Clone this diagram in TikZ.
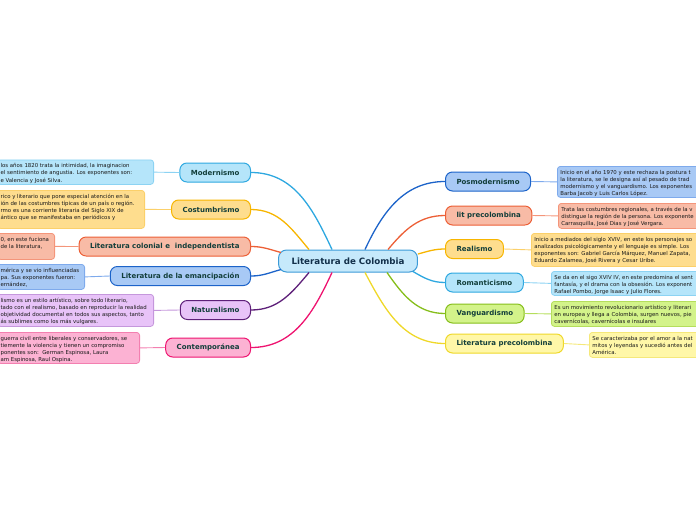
\documentclass[tikz,border=0pt]{standalone}
\usepackage{fontspec}
\setmainfont{DejaVu Sans}
\usepackage{xcolor}
\usepackage{tikz}
\usetikzlibrary{positioning}

\definecolor{cyanFill}{HTML}{B5E5FA}
\definecolor{cyanLine}{HTML}{2EA8E0}
\definecolor{cyanSoft}{HTML}{8CD3F3}
\definecolor{yelFill}{HTML}{FEDD8E}
\definecolor{yelLine}{HTML}{F7B500}
\definecolor{yelSoft}{HTML}{FBD06A}
\definecolor{oraFill}{HTML}{F8BBA6}
\definecolor{oraLine}{HTML}{EC5F36}
\definecolor{oraSoft}{HTML}{F4957A}
\definecolor{bluFill}{HTML}{A8C9F5}
\definecolor{bluLine}{HTML}{1C63C9}
\definecolor{bluSoft}{HTML}{7EAAEC}
\definecolor{purFill}{HTML}{E8C3F8}
\definecolor{purLine}{HTML}{5E2079}
\definecolor{purSoft}{HTML}{C597DC}
\definecolor{pinFill}{HTML}{FCB2D3}
\definecolor{pinLine}{HTML}{EE1470}
\definecolor{pinSoft}{HTML}{F37FB0}
\definecolor{greFill}{HTML}{D3F38A}
\definecolor{greLine}{HTML}{86BE1B}
\definecolor{greSoft}{HTML}{B5DE5C}
\definecolor{lyeFill}{HTML}{FFF7A8}
\definecolor{lyeLine}{HTML}{EFD829}
\definecolor{lyeSoft}{HTML}{F5E87A}
\definecolor{rootFill}{HTML}{C6E9FB}
\definecolor{rootLine}{HTML}{3C9BD8}
\definecolor{nameInk}{HTML}{123E3A}
\definecolor{rootInk}{HTML}{12304A}

\newcommand{\descpar}[3]{\parbox[t][#1][t]{#2}{\begin{tabular}[t]{@{}l@{}}#3\end{tabular}}}

\begin{document}
\begin{tikzpicture}[x=1pt,y=-1pt,
    root/.style={draw=rootLine, fill=rootFill, line width=1pt, rounded corners=8pt,
        minimum height=22pt, inner xsep=13pt, inner ysep=0pt,
        font=\fontsize{8.7}{10}\selectfont\bfseries, text=rootInk},
    branch/.style={line width=1pt, rounded corners=7pt, minimum height=19pt,
        inner xsep=11pt, inner ysep=0pt,
        font=\fontsize{7}{8}\selectfont\bfseries, text=nameInk},
    descbox/.style={line width=0.8pt, rounded corners=3pt, inner xsep=3pt, inner ysep=2.5pt,
        font=\fontsize{5.4}{7.3}\selectfont, text=black!90},
    twig/.style={line width=1.3pt},
    leaf/.style={line width=0.9pt}]
\useasboundingbox (0,0) rectangle (696,520);
\clip (0,0) rectangle (696,520);

\node[root] (root) at (348,261) {Literatura de Colombia};

\node[branch, draw=cyanLine, fill=cyanFill, anchor=east] (modern) at (251,172.5) {Modernismo};
\node[branch, draw=yelLine, fill=yelFill, anchor=east] (costum) at (251,209.5) {Costumbrismo};
\node[branch, draw=oraLine, fill=oraFill, anchor=east] (colonial) at (251,246.5) {Literatura colonial e\ \ independentista};
\node[branch, draw=bluLine, fill=bluFill, anchor=east] (emancip) at (251,276) {Literatura de la emancipación};
\node[branch, draw=purLine, fill=purFill, anchor=east] (natural) at (251,310) {Naturalismo};
\node[branch, draw=pinLine, fill=pinFill, anchor=east] (contemp) at (251,347.5) {Contemporánea};

\node[branch, draw=bluLine, fill=bluFill, anchor=west] (posmod) at (445,181.5) {Posmodernismo};
\node[branch, draw=oraLine, fill=oraFill, anchor=west] (litpre) at (445,215.5) {lit precolombina};
\node[branch, draw=yelLine, fill=yelFill, anchor=west] (realis) at (445,249) {Realismo};
\node[branch, draw=cyanLine, fill=cyanFill, anchor=west] (romant) at (445,282.5) {Romanticismo};
\node[branch, draw=greLine, fill=greFill, anchor=west] (vanguard) at (445,313.5) {Vanguardismo};
\node[branch, draw=lyeLine, fill=lyeFill, anchor=west] (preco) at (445,343.5) {Literatura precolombina};

\node[descbox, draw=cyanSoft, fill=cyanFill, anchor=north east] (modernTxt) at (154,159.5)
    {\descpar{19.5pt}{150pt}{los años 1820 trata la intimidad, la imaginacion\\ el sentimiento de angustia. Los exponentes son:\\e Valencia y José Silva.}};
\node[descbox, draw=yelSoft, fill=yelFill, anchor=north east] (costumTxt) at (145,190)
    {\descpar{33pt}{141pt}{rico y literario que pone especial atención en la\\ión de las costumbres típicas de un país o región.\\rmo es una corriente literaria del Siglo XIX de\\ántico que se manifestaba en periódicos y}};
\node[descbox, draw=oraSoft, fill=oraFill, anchor=north east] (colonialTxt) at (55,233)
    {\descpar{21pt}{51pt}{0, en este fuciona\\de la literatura,}};
\node[descbox, draw=bluSoft, fill=bluFill, anchor=north east] (emancipTxt) at (85,264)
    {\descpar{20pt}{81pt}{mérica y se vio influenciadas\\pa. Sus exponentes fueron:\\ernández,}};
\node[descbox, draw=purSoft, fill=purFill, anchor=north east] (naturalTxt) at (154,294)
    {\descpar{27pt}{150pt}{lismo es un estilo artístico, sobre todo literario,\\tado con el realismo, basado en reproducir la realidad\\objetividad documental en todos sus aspectos, tanto\\ás sublimes como los más vulgares.}};
\node[descbox, draw=pinSoft, fill=pinFill, anchor=north east] (contempTxt) at (140,332)
    {\descpar{26pt}{136pt}{guerra civil entre liberales y conservadores, se\\tiemente la violencia y tienen un compromiso\\ponentes son:\ \ German Espinosa, Laura\\am Espinosa, Raul Ospina.}};

\node[descbox, draw=bluSoft, fill=bluFill, anchor=north west] (posmodTxt) at (557,166)
    {\descpar{26pt}{200pt}{Inicio en el año 1970 y este rechaza la postura t\\la literatura, se le designa así al pesado de trad\\modernismo y el vanguardismo. Los exponentes\\Barba Jacob y Luis Carlos López.}};
\node[descbox, draw=oraSoft, fill=oraFill, anchor=north west] (litpreTxt) at (558,203)
    {\descpar{20pt}{200pt}{Trata las costumbres regionales, a través de la v\\distingue la región de la persona. Los exponente\\Carrasquilla, José Dias y José Vergara.}};
\node[descbox, draw=yelSoft, fill=yelFill, anchor=north west] (realisTxt) at (531,233)
    {\descpar{28pt}{200pt}{Inicio a mediados del siglo XVIV, en este los personajes so\\analizados psicológicamente y el lenguaje es simple. Los\\exponentes son: Gabriel García Márquez, Manuel Zapata,\\Eduardo Zalamea, José Rivera y Cesar Uribe.}};
\node[descbox, draw=cyanSoft, fill=cyanFill, anchor=north west] (romantTxt) at (551,271)
    {\descpar{19pt}{200pt}{Se da en el sigo XVIV IV, en este predomina el sent\\fantasía, y el drama con la obsesión. Los exponent\\Rafael Pombo, Jorge Isaac y Julio Flores.}};
\node[descbox, draw=greSoft, fill=greFill, anchor=north west] (vanguardTxt) at (551,301)
    {\descpar{20pt}{200pt}{Es un movimiento revolucionario artístico y literari\\en europea y llega a Colombia, surgen nuevos, pie\\cavernícolas, cavernícolas e insulares}};
\node[descbox, draw=lyeSoft, fill=lyeFill, anchor=north west] (precoTxt) at (589,332)
    {\descpar{20pt}{200pt}{Se caracterizaba por el amor a la nat\\mitos y leyendas y sucedió antes del\\América.}};

\draw[twig, cyanLine] ([xshift=-16pt]root.north) to[out=115,in=0] (modern.east);
\draw[twig, yelLine] ([xshift=-39pt]root.north) to[out=130,in=0] (costum.east);
\draw[twig, oraLine] ([xshift=3pt,yshift=-3pt]root.north west) to[out=165,in=0] (colonial.east);
\draw[twig, bluLine] ([xshift=3pt,yshift=3pt]root.south west) to[out=195,in=0] (emancip.east);
\draw[twig, purLine] ([xshift=-39pt]root.south) to[out=230,in=0] (natural.east);
\draw[twig, pinLine] ([xshift=-16pt]root.south) to[out=245,in=0] (contemp.east);

\draw[twig, bluLine] ([xshift=17pt]root.north) to[out=65,in=180] (posmod.west);
\draw[twig, oraLine] ([xshift=40pt]root.north) to[out=50,in=180] (litpre.west);
\draw[twig, yelLine] ([yshift=7pt]root.east) to[out=15,in=180] (realis.west);
\draw[twig, cyanLine] ([xshift=-5pt,yshift=1pt]root.south east) to[out=-30,in=180] (romant.west);
\draw[twig, greLine] ([xshift=39pt]root.south) to[out=-55,in=180] (vanguard.west);
\draw[twig, lyeLine] ([xshift=17pt]root.south) to[out=-62,in=180] (preco.west);

\draw[leaf, cyanSoft] (modern.west) -- (modernTxt.east);
\draw[leaf, yelSoft] (costum.west) -- (costumTxt.east);
\draw[leaf, oraSoft] (colonial.west) -- (colonialTxt.east);
\draw[leaf, bluSoft] (emancip.west) -- (emancipTxt.east);
\draw[leaf, purSoft] (natural.west) -- (naturalTxt.east);
\draw[leaf, pinSoft] (contemp.west) -- (contempTxt.east);
\draw[leaf, bluSoft] (posmod.east) -- (posmodTxt.west);
\draw[leaf, oraSoft] (litpre.east) -- (litpreTxt.west);
\draw[leaf, yelSoft] (realis.east) -- (realisTxt.west);
\draw[leaf, cyanSoft] (romant.east) -- (romantTxt.west);
\draw[leaf, greSoft] (vanguard.east) -- (vanguardTxt.west);
\draw[leaf, lyeSoft] (preco.east) -- (precoTxt.west);
\end{tikzpicture}
\end{document}
